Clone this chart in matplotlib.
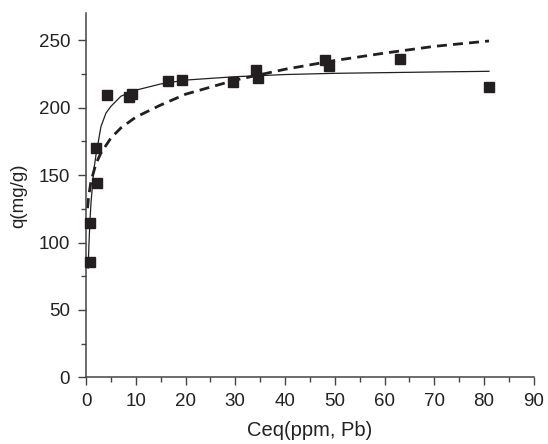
import numpy as np
import matplotlib
matplotlib.use('Agg')
from matplotlib import pyplot as plt
from matplotlib.ticker import MultipleLocator

# measured data: Ceq (ppm) vs q (mg/g)
ceq = [0.86, 0.74, 2.27, 2.07, 4.28, 8.6, 9.2, 16.4, 19.3,
       29.6, 34.1, 34.5, 48.1, 48.9, 63.1, 81.1]
q = [85.8, 114.2, 144.3, 170.0, 209.3, 208.0, 210.0, 219.6, 220.4,
     218.9, 228.3, 222.0, 235.7, 230.7, 235.9, 215.4]

# solid fit curve
solid_c = [0.42, 0.6, 0.8, 1.0, 1.5, 2.0, 3.0, 4.0, 5.0, 7.0, 10, 15,
           20, 30, 40, 50, 60, 70, 81]
solid_q = [81, 100, 117, 129.5, 152, 165, 186, 196, 201, 208.5, 213,
           217.6, 220.5, 223, 224.6, 225.5, 226, 226.5, 227]

# dashed fit curve
dash_c = [0.3, 0.5, 1, 2, 3, 5, 7, 10, 15, 20, 30, 40, 50, 60, 70, 81]
dash_q = [125.5, 133.5, 145.5, 158.5, 166.5, 177.5, 185, 193, 202,
          210, 220.5, 228.5, 235, 240.5, 245.5, 249.5]

plt.rcParams['font.family'] = ['Liberation Sans', 'DejaVu Sans']

fig = plt.figure(figsize=(5.48, 4.44), dpi=100)
ax = fig.add_axes([0.157, 0.150, 0.817, 0.820])

ink = '#231f20'
ax.plot(solid_c, solid_q, '-', color=ink, lw=0.9, zorder=2)
ax.plot(dash_c, dash_q, '--', color=ink, lw=2.0, dashes=(3.6, 2.2), zorder=2)
ax.plot(ceq, q, 's', color=ink, ms=7, zorder=3, clip_on=False)

ax.set_xlim(0, 90)
ax.set_ylim(0, 270)
ax.xaxis.set_major_locator(MultipleLocator(10))
ax.xaxis.set_minor_locator(MultipleLocator(5))
ax.yaxis.set_major_locator(MultipleLocator(50))
ax.yaxis.set_minor_locator(MultipleLocator(25))

for side in ['top', 'right']:
    ax.spines[side].set_visible(False)
spine_col = '#444444'
for side in ['left', 'bottom']:
    ax.spines[side].set_color(spine_col)
    ax.spines[side].set_linewidth(1.1)

ax.tick_params(which='major', direction='out', length=6, width=1.0,
               color=spine_col, labelsize=13.5, labelcolor='#222222')
ax.tick_params(which='minor', direction='out', length=3.5, width=1.0,
               color=spine_col)
ax.tick_params(axis='x', which='major', pad=5)
ax.tick_params(axis='y', which='major', pad=5.5)

ax.set_xlabel('Ceq(ppm, Pb)', fontsize=14.5, color='#222222', labelpad=8)
ax.set_ylabel('q(mg/g)', fontsize=13.5, color='#222222', labelpad=8)

fig.savefig('out.png', dpi=100)
